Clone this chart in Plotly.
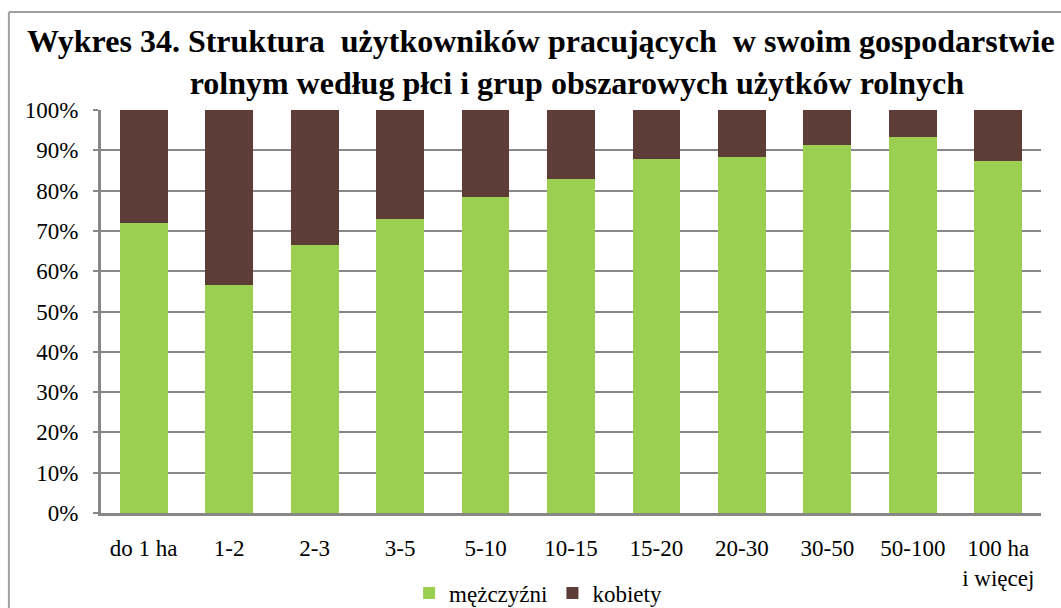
import plotly.graph_objects as go

# Area groups of agricultural land (ha)
categories = ["do 1 ha", "1-2", "2-3", "3-5", "5-10", "10-15", "15-20",
              "20-30", "30-50", "50-100", "100 ha<br>i więcej"]

# Share of users working on their own farm, by sex (%)
men = [72.0, 56.6, 66.6, 72.9, 78.4, 82.9, 87.8, 88.3, 91.3, 93.3, 87.3]
women = [28.0, 43.4, 33.4, 27.1, 21.6, 17.1, 12.2, 11.7, 8.7, 6.7, 12.7]

tick_vals = [0, 10, 20, 30, 40, 50, 60, 70, 80, 90, 100]
tick_text = ["0%", "10%", "20%", "30%", "40%", "50%", "60%", "70%", "80%", "90%", "100%"]

title_lines = ["Wykres 34. Struktura  użytkowników pracujących  w swoim gospodarstwie",
               "rolnym według płci i grup obszarowych użytków rolnych"]

GREEN = "#9ACF52"
BROWN = "#5E3C38"
GRID = "#878787"
SERIF = "Liberation Serif, Times New Roman, serif"

fig = go.Figure()
fig.add_trace(go.Bar(x=categories, y=men, name="mężczyźni",
                     marker=dict(color=GREEN, line=dict(width=0))))
fig.add_trace(go.Bar(x=categories, y=women, name="kobiety",
                     marker=dict(color=BROWN, line=dict(width=0))))

fig.update_layout(
    barmode="stack",
    bargap=0.44,
    width=1061, height=608,
    margin=dict(l=101, r=20, t=110, b=95, autoexpand=False),
    paper_bgcolor="white",
    plot_bgcolor="white",
    font=dict(family=SERIF, size=23, color="black"),
    legend=dict(
        orientation="h", x=0.465, xanchor="center", y=-0.1985, yanchor="middle",
        font=dict(family=SERIF, size=23), itemwidth=30,
        traceorder="normal", bgcolor="rgba(0,0,0,0)",
    ),
    showlegend=True,
)

# Bold two-line title; the second line is nudged right with leading spaces
title_text = "<b>" + title_lines[0] + "<br>" + "\u00a0" * 9 + title_lines[1] + "</b>"
fig.add_annotation(text=title_text, xref="paper", yref="paper",
                   x=0.468, y=1.12, xanchor="center", yanchor="middle",
                   showarrow=False, align="center",
                   font=dict(family=SERIF, size=32, color="black"))

fig.update_yaxes(
    range=[0, 100], tickvals=tick_vals, ticktext=tick_text,
    showgrid=True, gridcolor=GRID, gridwidth=2,
    showline=True, linecolor=GRID, linewidth=3,
    ticks="outside", ticklen=5, tickcolor=GRID, tickwidth=2,
    ticklabelstandoff=10, zeroline=False, automargin=False,
)
fig.update_xaxes(
    showline=True, linecolor=GRID, linewidth=3,
    ticks="", showgrid=False, ticklabelstandoff=12, automargin=False,
)

# Chart frame along the top and left edges
fig.add_shape(type="line", xref="paper", yref="paper",
              x0=-0.098, x1=1.03, y0=1.243, y1=1.243,
              line=dict(color="#A0A0A0", width=2))
fig.add_shape(type="line", xref="paper", yref="paper",
              x0=-0.098, x1=-0.098, y0=1.243, y1=-0.3,
              line=dict(color="#A0A0A0", width=2))

fig.write_html("out.html")
